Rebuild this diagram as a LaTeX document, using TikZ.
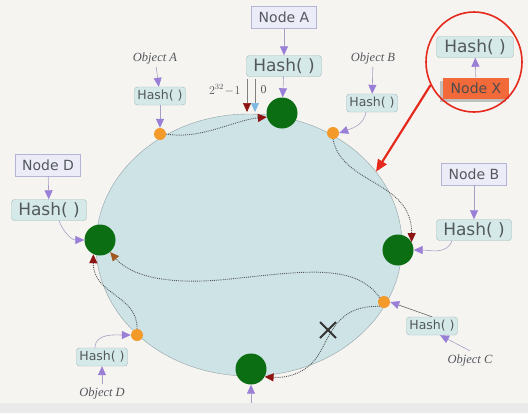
\documentclass[tikz,border=0pt]{standalone}
\usepackage{fontspec}
\setmainfont{Liberation Serif}
\setsansfont{DejaVu Sans}
\usepackage{xcolor}
\usepackage{tikz}
\usetikzlibrary{arrows.meta, shapes.geometric, shadows}

\definecolor{paper}{HTML}{F6F4F1}
\definecolor{strip}{HTML}{EAEAEA}
\definecolor{ringfill}{HTML}{CDE3E6}
\definecolor{ringline}{HTML}{93A3A5}
\definecolor{servgreen}{HTML}{0B6E12}
\definecolor{keyorange}{HTML}{F39A2B}
\definecolor{hashfill}{HTML}{D6E9E9}
\definecolor{hashline}{HTML}{9DBABA}
\definecolor{boxfill}{HTML}{ECECF8}
\definecolor{boxline}{HTML}{B4B4D6}
\definecolor{violettip}{HTML}{9A7FD6}
\definecolor{violetline}{HTML}{A99EC4}
\definecolor{tipred}{HTML}{8E1414}
\definecolor{tipbrown}{HTML}{A35A22}
\definecolor{tipblue}{HTML}{7DB8E0}
\definecolor{xorange}{HTML}{F26A3A}
\definecolor{markred}{HTML}{E42A1C}
\definecolor{ink}{HTML}{53585C}
\definecolor{walkgray}{HTML}{55595B}

\begin{document}
\begin{tikzpicture}[x=1pt, y=-1pt,
    server/.style={circle, fill=servgreen, minimum size=31pt, inner sep=0pt},
    keydot/.style={circle, fill=keyorange, minimum size=12pt, inner sep=0pt},
    nodebox/.style={draw=boxline, fill=boxfill, text=ink, minimum width=65pt, minimum height=22pt, inner sep=0pt, font=\sffamily\fontsize{14}{14}\selectfont},
    hashbox/.style={draw=hashline, fill=hashfill, text=ink, rounded corners=3pt, minimum width=75pt, minimum height=21pt, inner sep=0pt, font=\sffamily\fontsize{17}{17}\selectfont},
    smallhash/.style={hashbox, minimum width=51pt, minimum height=18pt, font=\sffamily\fontsize{12.5}{12.5}\selectfont},
    objname/.style={text=ink, font=\itshape\fontsize{12.5}{12.5}\selectfont},
    feed/.style={draw=violetline, line width=0.6pt, -{Triangle[length=9pt, width=8pt, color=violettip]}},
    walk/.style={densely dotted, line width=0.9pt, draw=walkgray, -{Triangle[length=9pt, width=8pt, color=#1]}},
    walk/.default=tipred]

    \useasboundingbox (0,0) rectangle (528,413);
    \fill[paper] (0,0) rectangle (528,413);
    \fill[strip] (0,403) rectangle (528,413);

    \node[ellipse, draw=ringline, fill=ringfill, minimum width=306pt, minimum height=262pt, inner sep=0pt] (ring) at (249,245) {};

    \node[keydot] (keyA) at (160,134) {};
    \node[keydot] (keyB) at (333,133) {};
    \node[keydot] (keyC) at (384,302) {};
    \node[keydot] (keyD) at (137,335) {};

    \node[server] (servA) at (282,113) {};
    \node[server] (servB) at (398,250) {};
    \node[server] (servC) at (251,369) {};
    \node[server] (servD) at (100,240) {};

    \draw[walk] (keyA.east) .. controls (200,140) and (235,120) .. (servA.195);
    \draw[walk] (keyB.south) .. controls (342,185) and (412,180) .. (servB.30);
    \draw[walk=tipbrown] (keyC.north west) .. controls (355,262) and (300,272) .. (230,279) .. controls (165,286) and (130,275) .. (servD.-50);
    \draw[walk] (keyC.south west) .. controls (330,305) and (330,345) .. (312,363) .. controls (300,375) and (285,378) .. (servC.-30);
    \draw[walk] (keyD.north) .. controls (138,295) and (93,295) .. (servD.-115);

    \coordinate (endTop) at (247,79);
    \coordinate (endBot) at (247,112);
    \coordinate (zeroTop) at (255,79);
    \coordinate (zeroBot) at (255,112);
    \draw[gray, line width=0.5pt, -{Triangle[length=9pt, width=8pt, color=tipred]}] (endTop) -- (endBot);
    \draw[gray, line width=0.5pt, -{Triangle[length=9pt, width=8pt, color=tipblue]}] (zeroTop) -- (zeroBot);
    \node[left, text=ink, font=\fontsize{12}{12}\selectfont] (endLabel) at (244,90) {$2^{32}\!-\!1$};
    \node[right, text=ink, font=\fontsize{12}{12}\selectfont] (zeroLabel) at (257,90) {0};

    \node[nodebox] (nodeA) at (284,17) {Node A};
    \node[hashbox] (hashA) at (284,66) {Hash( )};
    \draw[feed] (nodeA) -- (hashA);
    \draw[feed] (hashA) -- (servA);

    \node[nodebox] (nodeB) at (474,174) {Node B};
    \node[hashbox] (hashB) at (474,230) {Hash( )};
    \draw[feed] (nodeB) -- (hashB);
    \draw[feed] ([xshift=-22pt]hashB.south) to[out=-110, in=0] (servB.east);

    \node[nodebox] (nodeD) at (48,165) {Node D};
    \node[hashbox] (hashD) at (49,210) {Hash( )};
    \draw[feed] (nodeD) -- (hashD);
    \draw[feed] ([xshift=10pt]hashD.south) to[out=-70, in=180] (servD.west);

    \coordinate (fromBelow) at (251,403);
    \draw[feed] (fromBelow) -- (servC);

    \node[objname] (objA) at (155,58) {Object A};
    \node[smallhash] (hashObjA) at (160,96) {Hash( )};
    \draw[feed] (objA) -- (hashObjA);
    \draw[feed] (hashObjA) -- (keyA);

    \node[objname] (objB) at (373,58) {Object B};
    \node[smallhash] (hashObjB) at (372,103) {Hash( )};
    \draw[feed] (objB) -- (hashObjB);
    \draw[feed] ([xshift=-6pt]hashObjB.south) to[out=-100, in=20] (keyB.east);

    \node[objname] (objC) at (470,360) {Object C};
    \node[smallhash] (hashObjC) at (432,326) {Hash( )};
    \draw[feed] (objC.north) -- ([xshift=8pt]hashObjC.south);
    \draw[feed, draw=gray!80!black] (hashObjC.north) -- (keyC.east);

    \node[objname] (objD) at (102,393) {Object D};
    \node[smallhash] (hashObjD) at (102,357) {Hash( )};
    \draw[feed] (objD) -- (hashObjD);
    \draw[feed] ([xshift=-7pt]hashObjD.north) to[out=90, in=180] (keyD.west);

    \draw[line width=2pt, black!80] (320,322) -- (336,338) (320,338) -- (336,322);

    \node[hashbox, minimum width=77pt] (hashX) at (475,47) {Hash( )};
    \node[nodebox, draw=none, fill=xorange, text=black!70, minimum width=66pt, minimum height=21pt,
          drop shadow={shadow xshift=-3pt, shadow yshift=-3pt, fill=gray!60, opacity=0.8}] (nodeX) at (476,88) {Node X};
    \draw[feed] (nodeX) -- (hashX);
    \node[ellipse, draw=markred, line width=1.6pt, minimum width=96pt, minimum height=100pt, inner sep=0pt] (pick) at (474,62) {};
    \draw[markred, line width=2.2pt, -{Triangle[length=12pt, width=10pt]}] (pick.208) -- (ring.30);
\end{tikzpicture}
\end{document}
